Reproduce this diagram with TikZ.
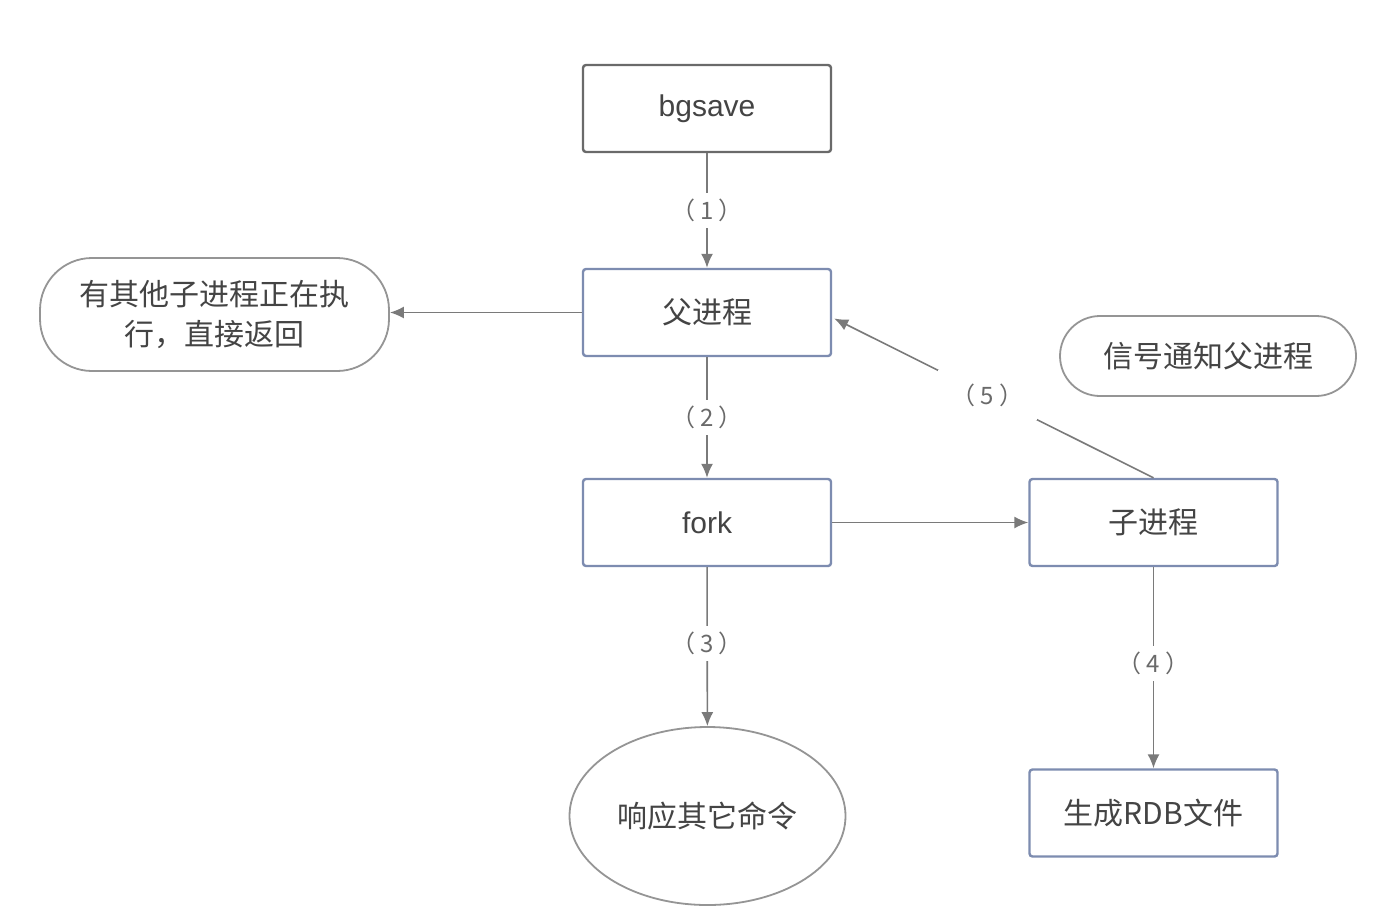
\documentclass[tikz,border=0pt]{standalone}
\usepackage{fontspec}
\setmainfont{Liberation Sans}
\newfontfamily\cjk{Noto Sans CJK SC}
\usetikzlibrary{arrows.meta,shapes.geometric,calc}
\definecolor{boxblue}{HTML}{7D8CB0}
\definecolor{boxgray}{HTML}{6A6A6A}
\definecolor{linegray}{HTML}{7A7A7A}
\definecolor{txt}{HTML}{444444}
\definecolor{labtxt}{HTML}{6A6A6A}
\newcommand{\steplab}[1]{（\hspace{2.5pt}#1\hspace{2.5pt}）}
\begin{document}
\begin{tikzpicture}[x=0.5pt,y=-0.5pt,
  procbox/.style={draw=boxblue,line width=1.2pt,rounded corners=1.5pt,minimum width=124pt,minimum height=43.5pt,inner sep=0pt,text=txt,font=\fontsize{15}{18}\selectfont\cjk},
  stadium/.style={draw=linegray!80,line width=0.9pt,rounded corners=26pt,text=txt,font=\fontsize{15}{20}\selectfont\cjk,align=center,inner sep=0pt},
  oval/.style={ellipse,draw=linegray!80,line width=0.9pt,minimum width=138pt,minimum height=89pt,inner sep=0pt,text=txt,font=\fontsize{15}{18}\selectfont\cjk},
  arr/.style={draw=linegray,line width=0.8pt,-{Latex[length=7pt,width=6pt]}},
  lab/.style={fill=white,inner sep=3pt,text=labtxt,font=\fontsize{12}{14}\selectfont\cjk}]
\useasboundingbox (0,0) rectangle (1396,910);
\fill[white] (0,0) rectangle (1396,910);
\node[procbox,draw=boxgray,font=\fontsize{15}{18}\selectfont] (bg) at (707,108.5) {bgsave};
\node[procbox] (fp) at (707,312.5) {父进程};
\node[procbox,font=\fontsize{15}{18}\selectfont] (fk) at (707,522.5) {fork};
\node[procbox] (zp) at (1153.5,522.5) {子进程};
\node[procbox] (rdb) at (1153.5,813) {生成RDB文件};
\node[stadium,minimum width=174.5pt,minimum height=56.5pt] (lq) at (214.5,314.5) {有其他子进程正在执\\行，直接返回};
\node[stadium,rounded corners=20pt,minimum width=148pt,minimum height=40pt] (sig) at (1208,356) {信号通知父进程};
\node[oval] (resp) at (707.5,816) {响应其它命令};
\draw[arr] (bg) -- node[lab]{\steplab{1}} (fp);
\draw[arr] (fp) -- node[lab]{\steplab{2}} (fk);
\draw[arr] (fk) -- node[lab,pos=0.48]{\steplab{3}} (resp);
\draw[arr] (zp) -- node[lab,pos=0.48]{\steplab{4}} (rdb);
\draw[arr] (fp.west) -- (fp.west -| lq.east);
\draw[arr] (fk.east) -- (zp.west);
\coordinate (fpin) at ($(fp.east)+(2,6)$);
\draw[arr] (zp.north) -- node[lab,inner sep=7pt,pos=0.52]{\steplab{5}} (fpin);
\end{tikzpicture}
\end{document}
